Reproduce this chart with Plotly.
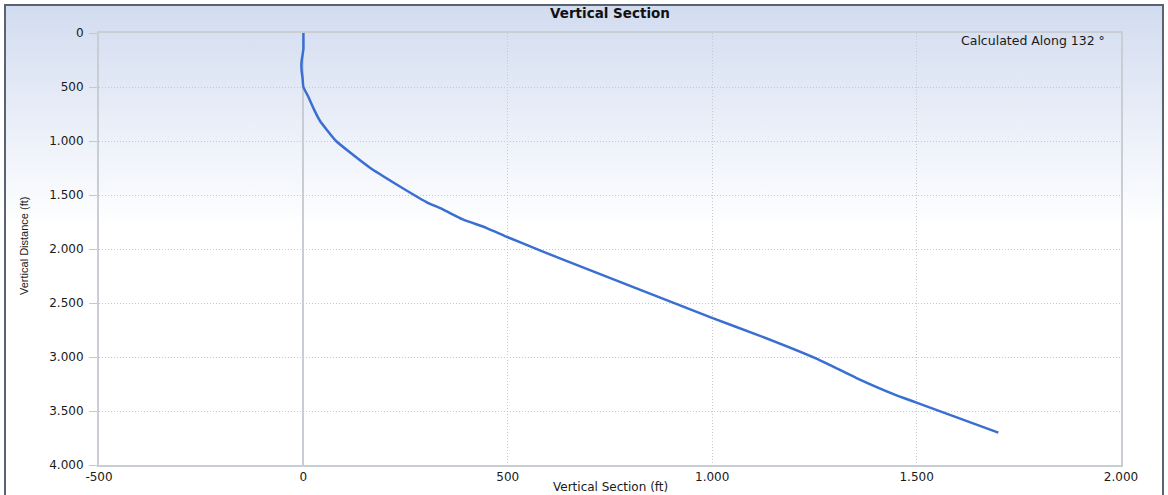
import base64
import plotly.graph_objects as go

# ---- data ----
vertical_distance = [0, 150, 200, 250, 300, 360, 420, 500, 590, 700, 810, 900, 1000, 1100, 1245,
                     1400, 1565, 1633, 1726, 1804, 1891, 2010, 2084, 2636, 2804, 3015, 3195,
                     3341, 3420, 3700]
vertical_section = [0, 0, -2, -4, -5, -4, -2, 0, 12, 25, 40, 58, 80, 112, 162,
                    227, 301, 341, 390, 447, 500, 577, 626, 998, 1117, 1255, 1353,
                    1442, 1498, 1700]

x_tick_vals = [-500, 0, 500, 1000, 1500, 2000]
x_tick_text = ["-500", "0", "500", "1.000", "1.500", "2.000"]
y_tick_vals = [0, 500, 1000, 1500, 2000, 2500, 3000, 3500, 4000]
y_tick_text = ["0", "500", "1.000", "1.500", "2.000", "2.500", "3.000", "3.500", "4.000"]

title_text = "Vertical Section"
x_title = "Vertical Section (ft)"
y_title = "Vertical Distance (ft)"
note_text = "Calculated Along 132 °"

# ---- layout geometry ----
W, H = 1168, 495
L, R, T, B = 99, 47, 33, 30
PW, PH = W - L - R, H - T - B

svg = f'''<svg xmlns="http://www.w3.org/2000/svg" width="{W}" height="{H}" viewBox="0 0 {W} {H}" preserveAspectRatio="none">
<defs><linearGradient id="g" x1="0" y1="0" x2="0" y2="1">
<stop offset="0" stop-color="#d2dcf0"/><stop offset="0.45" stop-color="#ffffff"/><stop offset="1" stop-color="#ffffff"/>
</linearGradient></defs>
<rect x="0" y="0" width="{W}" height="{H}" fill="#ffffff"/>
<rect x="5" y="5" width="{W-10}" height="{H}" fill="url(#g)" stroke="#5a6470" stroke-width="2"/>
</svg>'''
src = "data:image/svg+xml;base64," + base64.b64encode(svg.encode()).decode()

font_family = "DejaVu Sans, Liberation Sans, Arial, sans-serif"


def px_x(px):
    return (px - L) / PW


def px_y(py):
    return 1 - (py - T) / PH


fig = go.Figure()
fig.add_trace(go.Scatter(
    x=vertical_section, y=vertical_distance, mode="lines",
    line=dict(color="#3a6fd2", width=2.5, shape="spline", smoothing=0.5),
    showlegend=False, hoverinfo="x+y"))

fig.update_layout(
    template="none",
    width=W, height=H,
    margin=dict(l=L, r=R, t=T, b=B, pad=0, autoexpand=False),
    paper_bgcolor="#ffffff",
    plot_bgcolor="rgba(0,0,0,0)",
    font=dict(family=font_family, size=12, color="#1a1a1a"),
    title=dict(text=f"<b>{title_text}</b>", x=(L + PW / 2) / W, xanchor="center",
               y=1 - 13 / H, yanchor="middle", font=dict(size=13.5, color="#111111")),
    images=[dict(source=src, xref="paper", yref="paper", x=-L / PW, y=1 + T / PH,
                 sizex=W / PW, sizey=H / PH, xanchor="left", yanchor="top",
                 sizing="stretch", layer="below")],
    annotations=[
        dict(text=note_text, xref="paper", yref="paper",
             x=px_x(1107), y=px_y(41), xanchor="right", yanchor="middle",
             showarrow=False, font=dict(size=12.5, color="#1a1a1a")),
        dict(text=x_title, xref="paper", yref="paper",
             x=px_x(610), y=px_y(487), xanchor="center", yanchor="middle",
             showarrow=False, font=dict(size=12, color="#1a1a1a")),
        dict(text=y_title, xref="paper", yref="paper", textangle=-90,
             x=px_x(24), y=px_y(246), xanchor="center", yanchor="middle",
             showarrow=False, font=dict(size=11, color="#1a1a1a",
                                        family="Liberation Sans Narrow, Liberation Sans, Arial, sans-serif")),
    ],
)

fig.update_xaxes(
    automargin=False,
    range=[-500, 2000], tickvals=x_tick_vals, ticktext=x_tick_text,
    showgrid=True, gridcolor="#c4c8cf", griddash="1px,2px", gridwidth=1,
    zeroline=True, zerolinecolor="#c8ccd3", zerolinewidth=2,
    showline=True, linecolor="#c9cdd4", linewidth=2, mirror=True,
    ticks="", ticklen=0,
    tickfont=dict(size=12),
)
fig.update_yaxes(
    automargin=False,
    range=[4000, 0], tickvals=y_tick_vals, ticktext=y_tick_text,
    showgrid=True, gridcolor="#c4c8cf", griddash="1px,2px", gridwidth=1,
    zeroline=False,
    showline=True, linecolor="#c9cdd4", linewidth=2, mirror=True,
    ticks="outside", ticklen=8, tickcolor="#c4c8cf",
    ticklabelstandoff=3,
    tickfont=dict(size=12),
)

fig.write_html("out.html", config={"displayModeBar": False},
               post_script="document.body.style.margin='0';")
